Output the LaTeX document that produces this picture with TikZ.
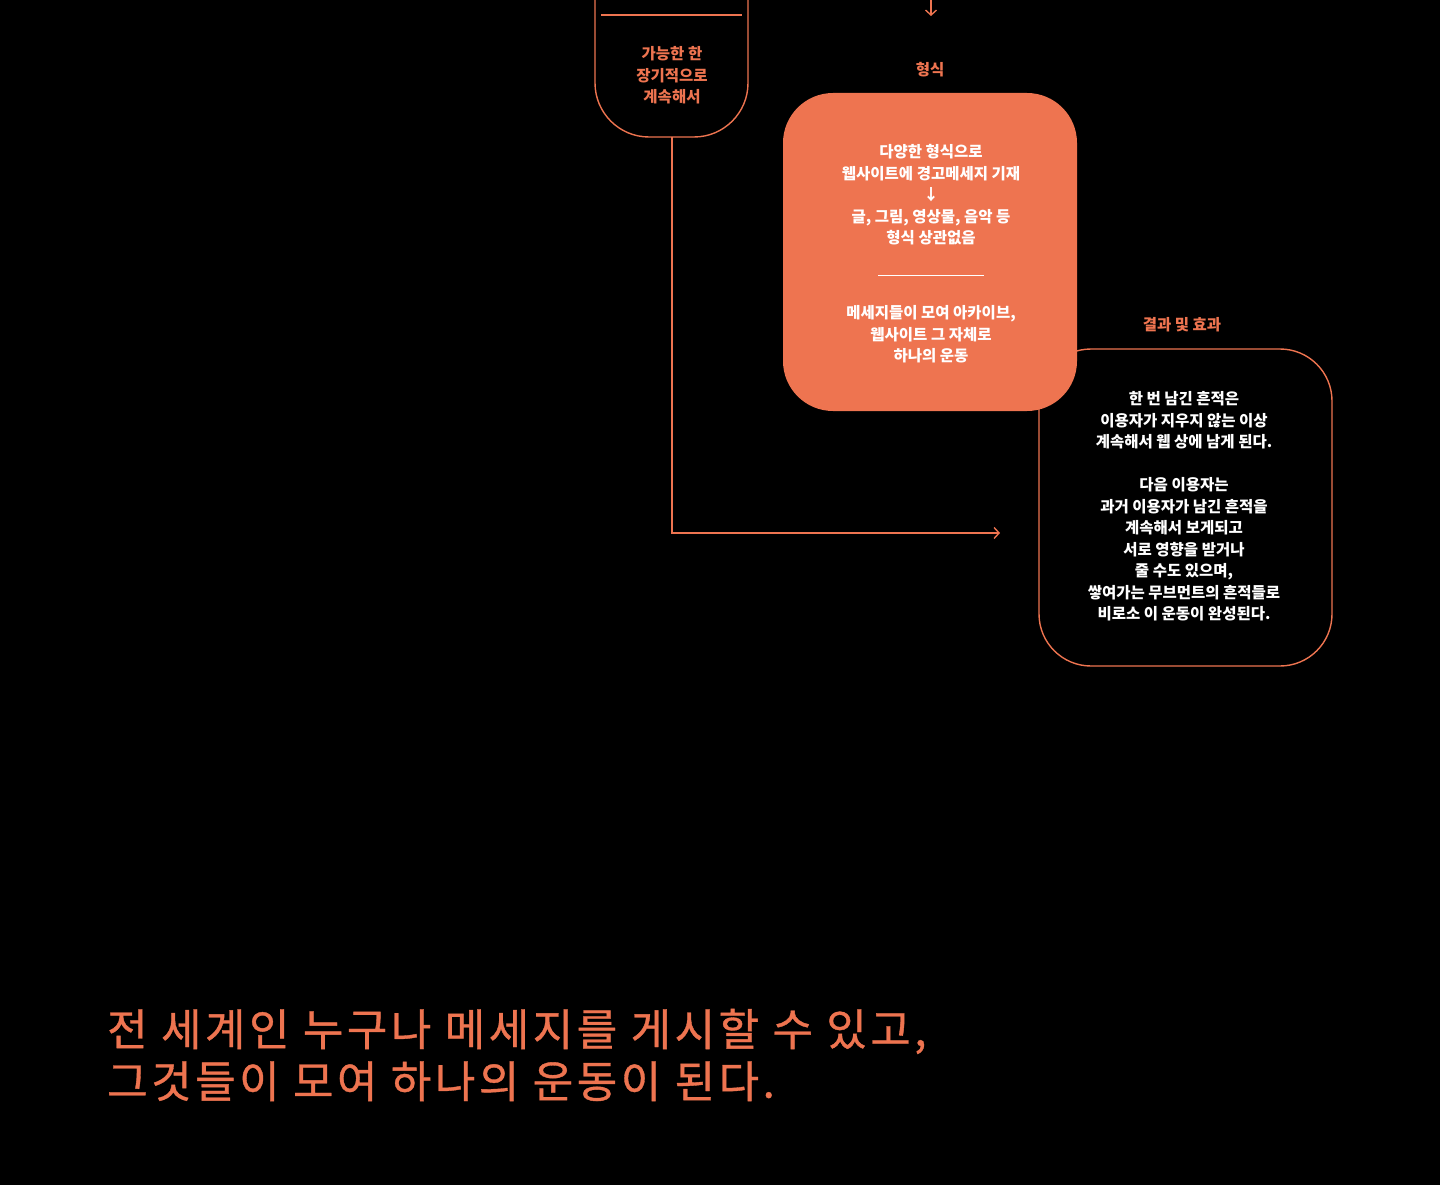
\documentclass[tikz,border=0pt]{standalone}
\usepackage{fontspec}
\setmainfont{Noto Sans CJK KR}
\newfontfamily\titlefont[LetterSpace=8,FakeBold=0.8]{Noto Sans CJK KR}
\usetikzlibrary{arrows.meta}
\definecolor{coral}{RGB}{238,116,80}
\tikzset{
  lbl/.style={text=coral, font=\bfseries\fontsize{15.5}{21.5}\selectfont, align=center, inner sep=0pt},
  wtxt/.style={text=white, font=\bfseries\fontsize{15.5}{21.5}\selectfont, align=center, inner sep=0pt},
  conn/.style={draw=coral, line width=1.4pt},
  tip/.style={-{Straight Barb[length=5pt,width=11pt,line width=1.4pt]}},
}
\begin{document}
\begin{tikzpicture}[x=1pt,y=-1pt]
\fill[black] (0,0) rectangle (1440,1185);
\useasboundingbox (0,0) rectangle (1440,1185);
\clip (0,0) rectangle (1440,1185);

% left box (cut at top)
\draw[conn, rounded corners=54] (595,-30) -- (595,137) -- (748,137) -- (748,-30);
\draw[conn] (601,15) -- (742,15);
\node[lbl] (keep) at (672,75.5) {가능한 한\\장기적으로\\계속해서};
\coordinate (keepbot) at (672,137);
\coordinate (arrowend) at (1000,533);
\draw[conn, tip] (keepbot) |- (arrowend);

% top arrow
\coordinate (toparr) at (931,-5);
\coordinate (toparrend) at (931,16);
\draw[conn, tip] (toparr) -- (toparrend);

% form
\node[lbl] (formlbl) at (930,70) {형식};

% result box
\node[lbl] (reslbl) at (1182,325) {결과 및 효과};
\node[draw=coral, line width=1.4pt, rounded corners=52, minimum width=293pt, minimum height=317pt, inner sep=0pt] (resbox) at (1185.5,507.5) {};
\node[wtxt] (restext) at (1184,506.5) {한 번 남긴 흔적은\\이용자가 지우지 않는 이상\\계속해서 웹 상에 남게 된다.\\[21.5pt]다음 이용자는\\과거 이용자가 남긴 흔적을\\계속해서 보게되고\\서로 영향을 받거나\\줄 수도 있으며,\\쌓여가는 무브먼트의 흔적들로\\비로소 이 운동이 완성된다.};

% orange box
\node[fill=coral, rounded corners=50, minimum width=294pt, minimum height=318pt, inner sep=0pt] (formbox) at (930,252) {};
\node[wtxt] (formtext1) at (931,195) {다양한 형식으로\\웹사이트에 경고메세지 기재\\↓\\글, 그림, 영상물, 음악 등\\형식 상관없음};
\draw[white, line width=0.8pt] (878,275) -- (984,275);
\node[wtxt] (formtext2) at (931,334.5) {메세지들이 모여 아카이브,\\웹사이트 그 자체로\\하나의 운동};

% title
\node[text=coral, font=\titlefont\fontsize{44}{52}\selectfont, align=left, anchor=west, inner sep=0pt] (title) at (107,1055) {전 세계인 누구나 메세지를 게시할 수 있고,\\그것들이 모여 하나의 운동이 된다.};
\end{tikzpicture}
\end{document}
